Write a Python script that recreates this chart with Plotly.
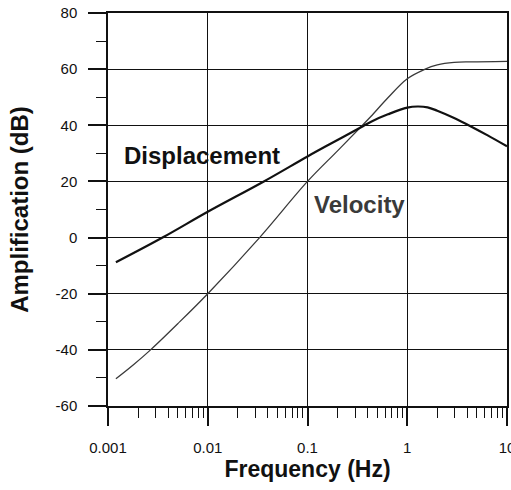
import math
import plotly.graph_objects as go

# Frequency (Hz) / amplification (dB)
disp_freq = [0.0012, 0.0036, 0.01, 0.0365, 0.1, 0.172, 0.34, 0.434, 0.64, 1.0, 1.27, 1.6, 2.0, 2.95, 4.35, 6.4, 10.0]
disp_db = [-8.8, 0.2, 9.2, 20.0, 28.9, 33.5, 39.2, 41.3, 43.9, 46.3, 46.7, 46.4, 45.2, 42.6, 39.6, 36.4, 32.5]

vel_freq = [0.0012, 0.0018, 0.00267, 0.005, 0.01, 0.0331, 0.1, 0.2, 0.34, 0.434, 0.64, 1.0, 1.49, 2.0, 2.95, 4.35, 10.0]
vel_db = [-50.3, -45.3, -40.0, -30.7, -20.0, 0.0, 20.0, 30.9, 39.3, 43.2, 49.8, 56.6, 59.9, 61.5, 62.4, 62.6, 62.8]

x_tick_vals = [0.001, 0.01, 0.1, 1, 10]
x_tick_text = ["0.001", "0.01", "0.1", "1", "10"]
x_minor_vals = [m * 10.0 ** e for e in range(-3, 1) for m in range(2, 10)]
y_tick_vals = [-60, -40, -20, 0, 20, 40, 60, 80]
y_tick_text = ["-60", "-40", "-20", "0", "20", "40", "60", "80"]

FONT = "Liberation Sans, Arial, Helvetica, sans-serif"
INK = "#111111"
GREY = "#3a3a3a"

fig = go.Figure()
fig.add_trace(go.Scatter(x=vel_freq, y=vel_db, mode="lines", name="Velocity",
                         line=dict(color=GREY, width=1.3, shape="spline", smoothing=1.0)))
fig.add_trace(go.Scatter(x=disp_freq, y=disp_db, mode="lines", name="Displacement",
                         line=dict(color=INK, width=2.2, shape="spline", smoothing=1.0)))

# annotation x positions on a log axis are given in log10 units
fig.add_annotation(x=math.log10(0.00137), y=29.2, xref="x", yref="y", text="<b>Displacement</b>",
                   showarrow=False, xanchor="left", yanchor="middle",
                   font=dict(family=FONT, size=24, color=INK))
fig.add_annotation(x=math.log10(0.112), y=11.9, xref="x", yref="y", text="<b>Velocity</b>",
                   showarrow=False, xanchor="left", yanchor="middle",
                   font=dict(family=FONT, size=24, color=GREY))

fig.update_layout(
    width=511, height=490,
    margin=dict(l=108, r=4, t=13, b=84, autoexpand=False),
    paper_bgcolor="white", plot_bgcolor="white",
    showlegend=False,
    font=dict(family=FONT, color=INK),
)
fig.update_xaxes(
    type="log", range=[-3, 1],
    tickmode="array", tickvals=x_tick_vals, ticktext=x_tick_text,
    ticks="outside", ticklen=18, tickwidth=1.5, tickcolor=INK,
    ticklabelstandoff=9, ticklabeloverflow="allow",
    tickfont=dict(family=FONT, size=15, color=INK),
    showgrid=True, gridcolor=INK, gridwidth=1.4,
    showline=True, linecolor=INK, linewidth=1.5, mirror=True,
    zeroline=False,
    minor=dict(tickmode="array", tickvals=x_minor_vals, ticks="outside", ticklen=10,
               tickwidth=1.3, tickcolor=INK, showgrid=False),
    title=dict(text="<b>Frequency (Hz)</b>", font=dict(family=FONT, size=23, color=INK), standoff=4),
)
fig.update_yaxes(
    range=[-60, 80],
    tickmode="array", tickvals=y_tick_vals, ticktext=y_tick_text,
    ticks="outside", ticklen=18, tickwidth=1.5, tickcolor=INK,
    ticklabelstandoff=8,
    tickfont=dict(family=FONT, size=15, color=INK),
    showgrid=True, gridcolor=INK, gridwidth=1.4,
    showline=True, linecolor=INK, linewidth=1.5, mirror=True,
    zeroline=False,
    minor=dict(dtick=10, ticks="outside", ticklen=10, tickwidth=1.3, tickcolor=INK, showgrid=False),
    title=dict(text="<b>Amplification (dB)</b>", font=dict(family=FONT, size=24, color=INK), standoff=20),
)

fig.write_html("out.html")
